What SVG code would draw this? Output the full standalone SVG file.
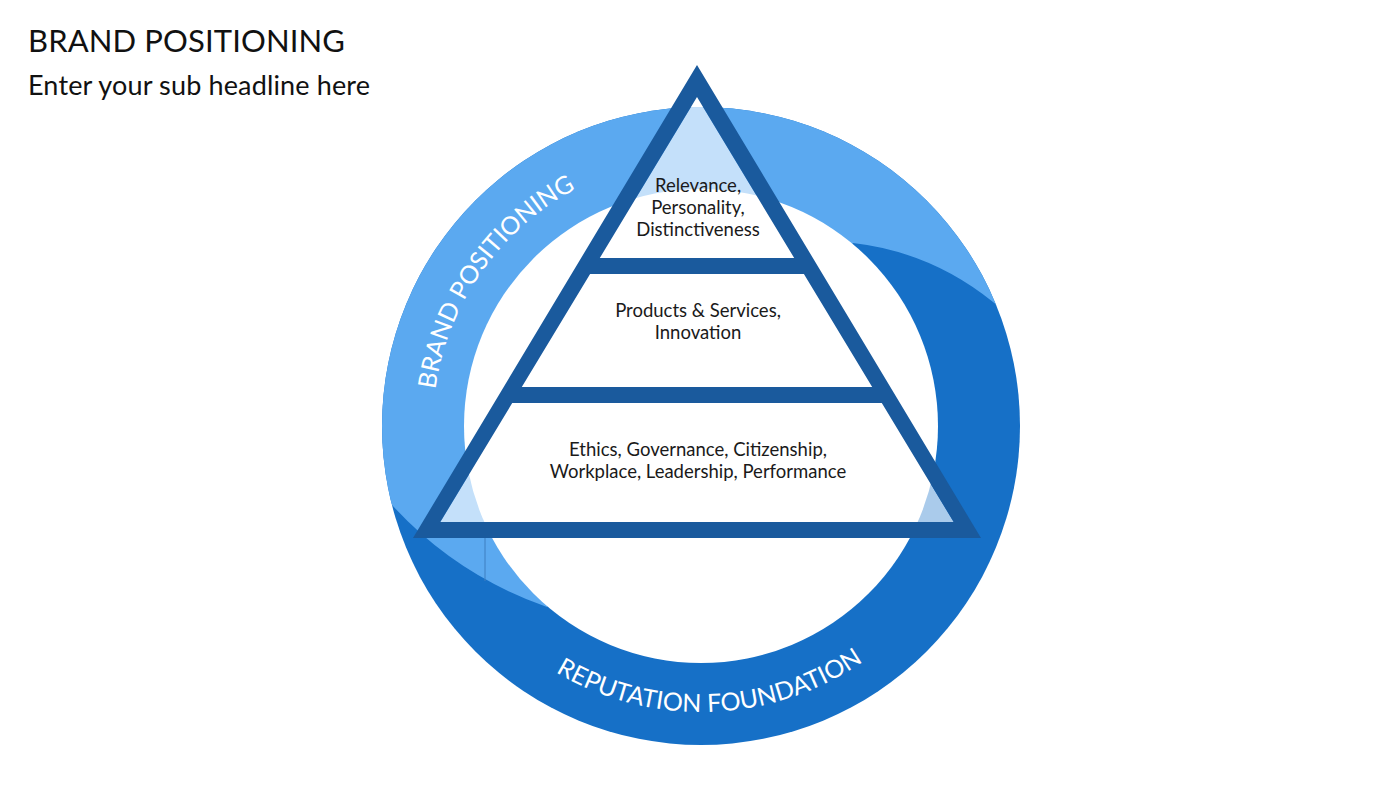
<svg xmlns="http://www.w3.org/2000/svg" width="1400" height="788" viewBox="0 0 1400 788">
  <style>
    .head { font-family: Lato, "Liberation Sans", sans-serif; fill: #111; }
    .lbl { font-family: Lato, "Liberation Sans", sans-serif; font-size: 18.5px; fill: #1a1a1a; text-anchor: middle; }
    .ring { font-family: Lato, "Liberation Sans", sans-serif; font-size: 25px; fill: #ffffff; }
    .cell { fill: #ffffff; fill-opacity: 0.64; }
  </style>
  <defs>
    <clipPath id="outerClip">
      <circle cx="701" cy="426" r="319"/>
    </clipPath>
    <path id="arcTop" d="M 468.9 560 A 268 268 0 0 1 747.5 162.1"/>
    <path id="arcBottom" d="M 435.8 533.1 A 286 286 0 0 0 973 514.4"/>
  </defs>
  <rect width="1400" height="788" fill="#ffffff"/>

  <g id="header">
    <text class="head" x="28" y="52" font-size="31" textLength="317">BRAND POSITIONING</text>
    <text class="head" x="28" y="95" font-size="27" textLength="342">Enter your sub headline here</text>
  </g>

  <g id="ring">
    <circle cx="701" cy="426" r="319" fill="#1670C7"/>
    <path clip-path="url(#outerClip)" fill="#5BA9F0" d="M 547 607 Q 456 575 392 505 L 374 482 L 374 90 L 1030 90 L 1030 340 L 1010 316 L 993 302 Q 931 252 853 243 Z"/>
    <circle cx="701" cy="426" r="237" fill="#ffffff"/>
    <line x1="485" y1="538" x2="485" y2="581" stroke="#3F7FC0" stroke-width="1"/>
    <text class="ring"><textPath href="#arcTop" startOffset="50%" text-anchor="middle">BRAND POSITIONING</textPath></text>
    <text class="ring"><textPath href="#arcBottom" startOffset="50%" text-anchor="middle">REPUTATION FOUNDATION</textPath></text>
  </g>

  <g id="pyramid">
    <polygon class="cell" points="697,97 599.8,258 794.2,258"/>
    <polygon class="cell" points="590.1,274 803.9,274 872.2,387 521.8,387"/>
    <polygon class="cell" points="512.2,403 881.8,403 953.7,522 440.3,522"/>
    <path fill="#1A5A9D" fill-rule="evenodd" d="M 697 65 L 981 538 L 413 538 Z M 697 97 L 599.8 258 L 794.2 258 Z M 590.1 274 L 803.9 274 L 872.2 387 L 521.8 387 Z M 512.2 403 L 881.8 403 L 953.7 522 L 440.3 522 Z"/>
  </g>

  <g id="tier-top">
    <text class="lbl" x="698" y="192">Relevance,</text>
    <text class="lbl" x="698" y="214">Personality,</text>
    <text class="lbl" x="698" y="236">Distinctiveness</text>
  </g>
  <g id="tier-middle">
    <text class="lbl" x="698" y="317">Products &amp; Services,</text>
    <text class="lbl" x="698" y="339">Innovation</text>
  </g>
  <g id="tier-bottom">
    <text class="lbl" x="698" y="456">Ethics, Governance, Citizenship,</text>
    <text class="lbl" x="698" y="478">Workplace, Leadership, Performance</text>
  </g>
</svg>
